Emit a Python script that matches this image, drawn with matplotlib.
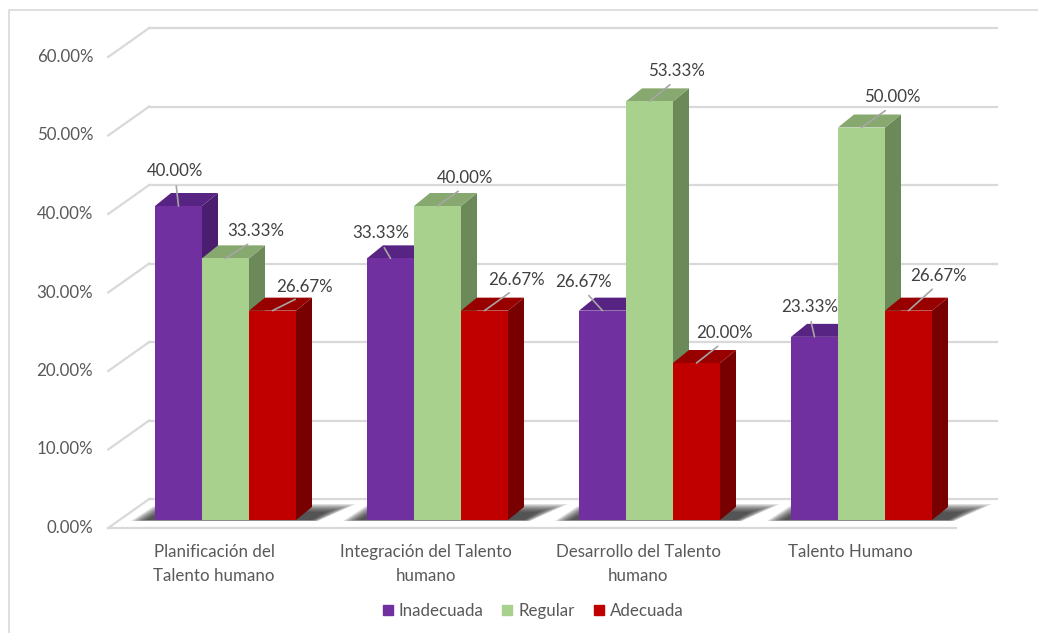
import numpy as np
import matplotlib
matplotlib.use('Agg')
import matplotlib.pyplot as plt
from matplotlib.patches import Polygon
from matplotlib.lines import Line2D

categories = ['Planificación del\nTalento humano', 'Integración del Talento\nhumano',
              'Desarrollo del Talento\nhumano', 'Talento Humano']
series = ['Inadecuada', 'Regular', 'Adecuada']
inadecuada = [40.00, 33.33, 26.67, 23.33]
regular = [33.33, 40.00, 53.33, 50.00]
adecuada = [26.67, 26.67, 20.00, 26.67]
y_ticks = [0, 10, 20, 30, 40, 50, 60]

# face colours: front, top, side
col_front = ['#7030A0', '#A9D18E', '#C00000']
col_top = ['#582483', '#87A96F', '#980000']
col_side = ['#4A1D6E', '#6C8A59', '#780000']

# data label offsets (pixels from bar top centre)
lab_dx = [[-3, -10, -19, -5], [30, 28, 27, 31], [32, 32, 28, 30]]
lab_dy = [[35, 25, 29, 30], [27, 28, 30, 30], [24, 31, 30, 35]]

PX = 212.0   # pixels per category
PY = 7.85    # pixels per percent
def ux(p): return p / PX
def uy(p): return p / PY

W = 47 / PX
DEPTH = (ux(16), uy(13))
BACK = (ux(29.7), uy(21))
FRONT = (ux(-11.3), uy(-8))
X0, X1 = -0.5, 3.5
FS = 12.2

plt.rcParams['font.family'] = ['Lato', 'DejaVu Sans']
fig = plt.figure(figsize=(10.38, 6.33), dpi=100)
ax = fig.add_axes([0, 0, 1, 1])
ax.set_xlim(-225.5 / PX, (1038 - 225.5) / PX)
ax.set_ylim(-113 / PY, 520 / PY)
ax.axis('off')

# outer frame
ax.plot([8.5/1038, 8.5/1038, 1.0], [0, 1-10/633, 1-10/633], transform=ax.transAxes,
        color='#D9D9D9', lw=1.2, clip_on=False)

grid_c = '#D9D9D9'
for t in y_ticks:
    ax.plot([X0 + BACK[0], X1 + BACK[0]], [t + BACK[1]] * 2, color=grid_c, lw=1.6, zorder=1)
    ax.plot([X0 + FRONT[0], X0 + BACK[0]], [t + FRONT[1], t + BACK[1]], color=grid_c, lw=1.6, zorder=1)
    ax.text(X0 + FRONT[0] - ux(15), t + FRONT[1], f'{t:.2f}%', ha='right', va='center',
            fontsize=FS, color='#595959')
# floor front edge
ax.plot([X0 + FRONT[0], X1 + FRONT[0]], [FRONT[1]] * 2, color=grid_c, lw=1.6, zorder=1)

x = np.arange(len(categories))
vals = [inadecuada, regular, adecuada]

# shadows on the floor
for i in x:
    L = i - 1.5 * W
    R = i + 1.5 * W + DEPTH[0]
    n = 12
    for k in range(n):
        s = k / (n - 1)
        pts = [(L - ux(24 - 16 * s), uy(-1 + 1 * s)), (R + ux(6 - 6 * s), uy(-1 + 1 * s)),
               (R + ux(44 - 30 * s), uy(16 - 8 * s)), (L + ux(2 + 4 * s), uy(16 - 8 * s))]
        ax.add_patch(Polygon(pts, closed=True, color='#222222', alpha=0.11, lw=0, zorder=2))

for i in x:
    for j in range(3):
        v = vals[j][i]
        left = i + (j - 1.5) * W
        right = left + W
        dx, dy = DEPTH
        side = [(right, 0), (right, v), (right + dx, v + dy), (right + dx, dy)]
        top = [(left, v), (right, v), (right + dx, v + dy), (left + dx, v + dy)]
        ax.add_patch(Polygon(side, closed=True, color=col_side[j], lw=0, zorder=3))
        ax.add_patch(Polygon(top, closed=True, color=col_top[j], lw=0, zorder=3))
        ax.bar(left, v, width=W, align='edge', color=col_front[j], lw=0, zorder=3)

for j in range(3):
    for i in x:
        v = vals[j][i]
        cx = i + (j - 1) * W
        ax.annotate(f'{v:.2f}%', xy=(cx, v), xytext=(lab_dx[j][i], lab_dy[j][i]),
                    textcoords='offset pixels', ha='center', va='center',
                    fontsize=FS, color='#404040', zorder=5,
                    arrowprops=dict(arrowstyle='-', color='#A6A6A6', lw=1.2,
                                    relpos=(0.5, 0.0), shrinkA=3, shrinkB=0))

for i, c in enumerate(categories):
    ax.text(i + FRONT[0], FRONT[1] - uy(16), c, ha='center', va='top', fontsize=FS,
            color='#595959', linespacing=1.6)

handles = [Line2D([], [], marker='s', ls='', markersize=7.5, color=c) for c in col_front]
fig.legend(handles, series, loc='center', bbox_to_anchor=(533/1038, 1 - 611/633), ncol=3,
           frameon=False, handlelength=0.6, handletextpad=0.35, columnspacing=1.1,
           prop={'size': FS}, labelcolor='#595959')

fig.savefig('out.png', dpi=100)
